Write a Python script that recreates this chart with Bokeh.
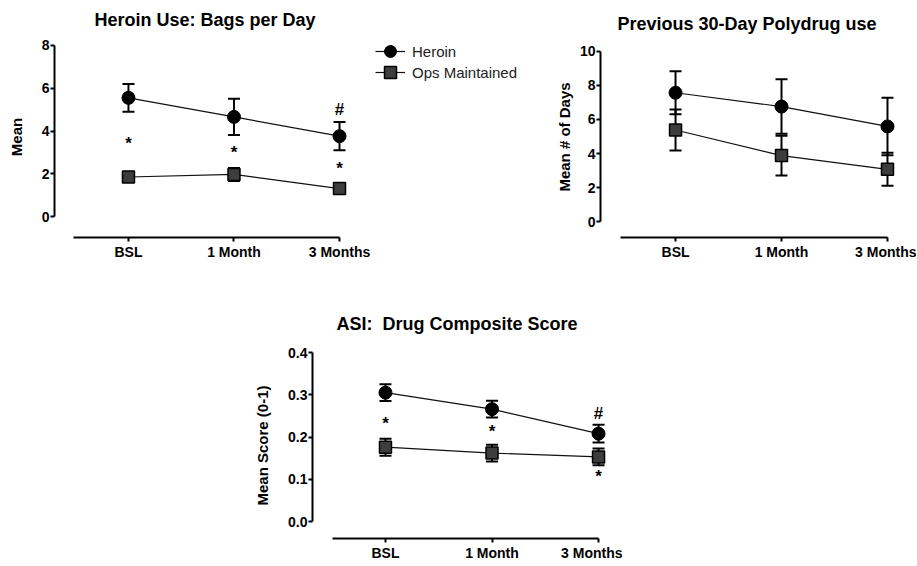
from bokeh.plotting import figure
from bokeh.layouts import column, row
from bokeh.models import (ColumnDataSource, Whisker, TeeHead, FixedTicker, Legend,
                          LegendItem, NumeralTickFormatter, Range1d, Spacer)
from bokeh.core.properties import value
from bokeh.embed import file_html
from bokeh.resources import INLINE

# ---------------- data ----------------
categories = ["BSL", "1 Month", "3 Months"]
cat_pos = [0, 1, 2]

bags_heroin = [5.55, 4.66, 3.76]
bags_heroin_sem = [0.65, 0.85, 0.66]
bags_ops = [1.85, 1.97, 1.31]
bags_ops_sem = [0.2, 0.3, 0.2]
bags_ticks = [0, 2, 4, 6, 8]
bags_sig_x = [0, 1, 2, 2]
bags_sig_y = [3.46, 3.05, 2.31, 5.0]
bags_sig_text = ["*", "*", "*", "#"]

poly_heroin = [7.57, 6.76, 5.59]
poly_heroin_sem = [1.26, 1.6, 1.69]
poly_ops = [5.38, 3.88, 3.07]
poly_ops_sem = [1.2, 1.17, 0.97]
poly_ticks = [0, 2, 4, 6, 8, 10]
poly_sig_x = []
poly_sig_y = []
poly_sig_text = []

asi_heroin = [0.305, 0.266, 0.208]
asi_heroin_sem = [0.02, 0.02, 0.021]
asi_ops = [0.176, 0.162, 0.153]
asi_ops_sem = [0.02, 0.02, 0.02]
asi_ticks = [0.0, 0.1, 0.2, 0.3, 0.4]
asi_sig_x = [0, 1, 2, 2]
asi_sig_y = [0.235, 0.216, 0.11, 0.255]
asi_sig_text = ["*", "*", "*", "#"]

legend_labels = ["Heroin", "Ops Maintained"]

FONT = "Liberation Sans"


def make_panel(title, ylabel, ticks, heroin, hsem, ops, osem, sx, sy, stext,
               width, height, mb, xr, yr, xbounds, title_offset, title_standoff,
               label_standoff, tick_fmt=None):
    p = figure(width=width, height=height, output_backend="svg", toolbar_location=None,
               x_range=Range1d(*xr), y_range=Range1d(*yr),
               min_border_left=mb[0], min_border_right=mb[1],
               min_border_top=mb[2], min_border_bottom=mb[3])
    p.outline_line_color = None
    p.xgrid.visible = False
    p.ygrid.visible = False
    p.background_fill_color = "white"
    p.border_fill_color = "white"

    p.title.text = title
    p.title.text_font = FONT
    p.title.text_font_size = "18px"
    p.title.text_font_style = "bold"
    p.title.text_color = "black"
    p.title.align = "left"
    p.title.offset = title_offset
    p.title.standoff = title_standoff

    for ax in (p.xaxis[0], p.yaxis[0]):
        ax.axis_line_width = 2
        ax.axis_line_color = "black"
        ax.major_tick_line_width = 2
        ax.major_tick_line_color = "black"
        ax.major_tick_in = 0
        ax.major_tick_out = 4
        ax.minor_tick_line_color = None
        ax.major_label_text_font = FONT
        ax.major_label_text_font_style = "bold"
        ax.major_label_text_color = "black"
        ax.major_label_text_font_size = "14px"

    p.xaxis.ticker = FixedTicker(ticks=cat_pos)
    p.xaxis.major_label_overrides = {k: v for k, v in zip(cat_pos, categories)}
    p.xaxis.bounds = xbounds
    p.xaxis.major_label_standoff = 2

    p.yaxis.ticker = FixedTicker(ticks=ticks)
    p.yaxis.bounds = (ticks[0], ticks[-1])
    p.yaxis.major_label_standoff = 1
    if tick_fmt:
        p.yaxis.formatter = NumeralTickFormatter(format=tick_fmt)
    p.yaxis.axis_label = ylabel
    p.yaxis.axis_label_text_font = FONT
    p.yaxis.axis_label_text_font_style = "bold"
    p.yaxis.axis_label_text_font_size = "15px"
    p.yaxis.axis_label_text_color = "black"
    p.yaxis.axis_label_standoff = label_standoff

    # error bars (SEM)
    for vals, sem in ((heroin, hsem), (ops, osem)):
        src = ColumnDataSource(dict(x=cat_pos,
                                    upper=[v + e for v, e in zip(vals, sem)],
                                    lower=[v - e for v, e in zip(vals, sem)]))
        w = Whisker(source=src, base="x", upper="upper", lower="lower", level="underlay",
                    line_width=2, line_color="black",
                    upper_head=TeeHead(size=12, line_width=2, line_color="black"),
                    lower_head=TeeHead(size=12, line_width=2, line_color="black"))
        p.add_layout(w)

    hl = p.line(cat_pos, heroin, line_width=1.2, line_color="#111111")
    ol = p.line(cat_pos, ops, line_width=1.2, line_color="#111111")
    hm = p.scatter(cat_pos, heroin, marker="circle", size=13, fill_color="black",
                   line_color="black", line_width=1)
    om = p.scatter(cat_pos, ops, marker="square", size=12, fill_color="#3d3d3d",
                   line_color="black", line_width=1.5)

    if sx:
        tsrc = ColumnDataSource(dict(x=sx, y=sy, text=stext,
                                     dy=[1 if t == "*" else 0 for t in stext]))
        p.text(x="x", y="y", text="text", y_offset="dy", source=tsrc,
               text_font=value(FONT), text_font_style="bold", text_font_size="17px",
               text_align="center", text_baseline="middle", text_color="black")
    return p, (hl, hm), (ol, om)


p1, h1, o1 = make_panel("Heroin Use: Bags per Day", "Mean", bags_ticks,
                        bags_heroin, bags_heroin_sem, bags_ops, bags_ops_sem,
                        bags_sig_x, bags_sig_y, bags_sig_text,
                        width=540, height=262, mb=(54, 10, 36, 24),
                        xr=(-0.701, 3.81), yr=(-0.977, 8.419), xbounds=(-0.521, 2),
                        title_offset=40, title_standoff=14, label_standoff=14)

for label, rends, loc in ((legend_labels[0], h1, (321, 171)),
                          (legend_labels[1], o1, (321, 150))):
    lg = Legend(items=[LegendItem(label=label, renderers=list(rends))],
                location=loc, glyph_width=30, glyph_height=30, spacing=0,
                padding=0, margin=0, label_standoff=7, border_line_color=None,
                background_fill_alpha=0, label_text_font=FONT,
                label_text_font_size="15px", label_text_color="#222222")
    p1.add_layout(lg)

p2, _, _ = make_panel("Previous 30-Day Polydrug use", "Mean # of Days", poly_ticks,
                      poly_heroin, poly_heroin_sem, poly_ops, poly_ops_sem,
                      poly_sig_x, poly_sig_y, poly_sig_text,
                      width=376, height=262, mb=(60, 11, 36, 24),
                      xr=(-0.708, 2.17), yr=(-0.936, 10.877), xbounds=(-0.519, 2),
                      title_offset=17, title_standoff=5, label_standoff=4)

p3, _, _ = make_panel("ASI: \u00a0Drug Composite Score", "Mean Score (0-1)", asi_ticks,
                      asi_heroin, asi_heroin_sem, asi_ops, asi_ops_sem,
                      asi_sig_x, asi_sig_y, asi_sig_text,
                      width=382, height=301, mb=(72, 10, 90, 24),
                      xr=(-0.685, 2.131), yr=(-0.04, 0.4), xbounds=(-0.498, 2),
                      title_offset=24, title_standoff=38, label_standoff=14,
                      tick_fmt="0.0")

layout = column(row(p1, p2), row(Spacer(width=240, height=301), p3))

open("out.html", "w").write(file_html(layout, INLINE))
